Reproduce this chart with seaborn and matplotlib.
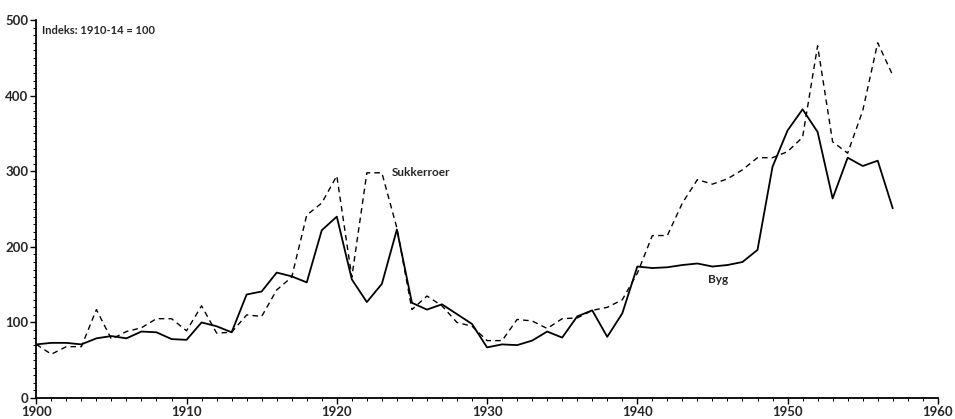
import matplotlib
matplotlib.use("Agg")
import matplotlib.pyplot as plt
import seaborn as sns
import pandas as pd
import numpy as np
from matplotlib.ticker import MultipleLocator

years_byg = list(range(1900, 1958))
byg = [71, 73, 73, 71, 79, 82, 79, 88, 87, 78,
       77, 100, 95, 87, 137, 141, 166, 161, 153, 222,
       240, 157, 127, 151, 223, 126, 117, 124, 111, 98,
       67, 71, 70, 76, 88, 80, 108, 116, 81, 112,
       174, 172, 173, 176, 178, 174, 176, 180, 196, 306,
       354, 382, 352, 264, 318, 307, 314, 251]

years_suk = list(range(1900, 1958))
sukkerroer = [71, 58, 68, 68, 117, 78, 88, 93, 105, 105,
              89, 122, 86, 87, 110, 108, 143, 160, 242, 258,
              294, 160, 298, 298, 225, 117, 135, 122, 100, 95,
              76, 76, 104, 102, 92, 105, 106, 116, 120, 130,
              165, 215, 215, 258, 289, 283, 290, 302, 318, 318,
              326, 345, 466, 339, 324, 380, 470, 427]

x_ticks = [1900, 1910, 1920, 1930, 1940, 1950, 1960]
y_ticks = [0, 100, 200, 300, 400, 500]

df_byg = pd.DataFrame({"year": years_byg, "value": byg})
df_suk = pd.DataFrame({"year": years_suk, "value": sukkerroer})

sns.set_theme(style="white")
plt.rcParams['font.family'] = ['Lato', 'DejaVu Sans']

fig = plt.figure(figsize=(9.55, 4.19), dpi=100)
ax = fig.add_axes([0.038, 0.050, 0.944, 0.902])

sns.lineplot(data=df_byg, x="year", y="value", ax=ax, color="black", lw=1.3)
sns.lineplot(data=df_suk, x="year", y="value", ax=ax, color="black", lw=1.0,
             linestyle=(0, (4, 3)))

ax.set_xlim(1900, 1960)
ax.set_ylim(0, 500)
ax.set_xticks(x_ticks)
ax.set_yticks(y_ticks)
ax.xaxis.set_minor_locator(MultipleLocator(1))
ax.yaxis.set_minor_locator(MultipleLocator(10))
ax.set_xlabel("")
ax.set_ylabel("")
for s in ["top", "right"]:
    ax.spines[s].set_visible(False)
for s in ["left", "bottom"]:
    ax.spines[s].set_color("black")
    ax.spines[s].set_linewidth(1.3)

ax.tick_params(axis="both", which="major", direction="out", length=4, width=1,
               color="black", labelsize=9.5, pad=1.5, bottom=True, left=True)
ax.tick_params(axis="both", which="minor", direction="out", length=2, width=0.7,
               color="black", bottom=True, left=True)
for lab in ax.get_xticklabels() + ax.get_yticklabels():
    lab.set_fontweight("bold")

ax.text(1900.4, 486, "Indeks: 1910-14 = 100", fontsize=8, fontweight="bold",
        ha="left", va="center")
ax.text(1923.65, 298, "Sukkerroer", fontsize=8.5, fontweight="bold",
        ha="left", va="center")
ax.text(1944.7, 157, "Byg", fontsize=8.5, fontweight="bold",
        ha="left", va="center")

fig.savefig("out.png", dpi=100)
